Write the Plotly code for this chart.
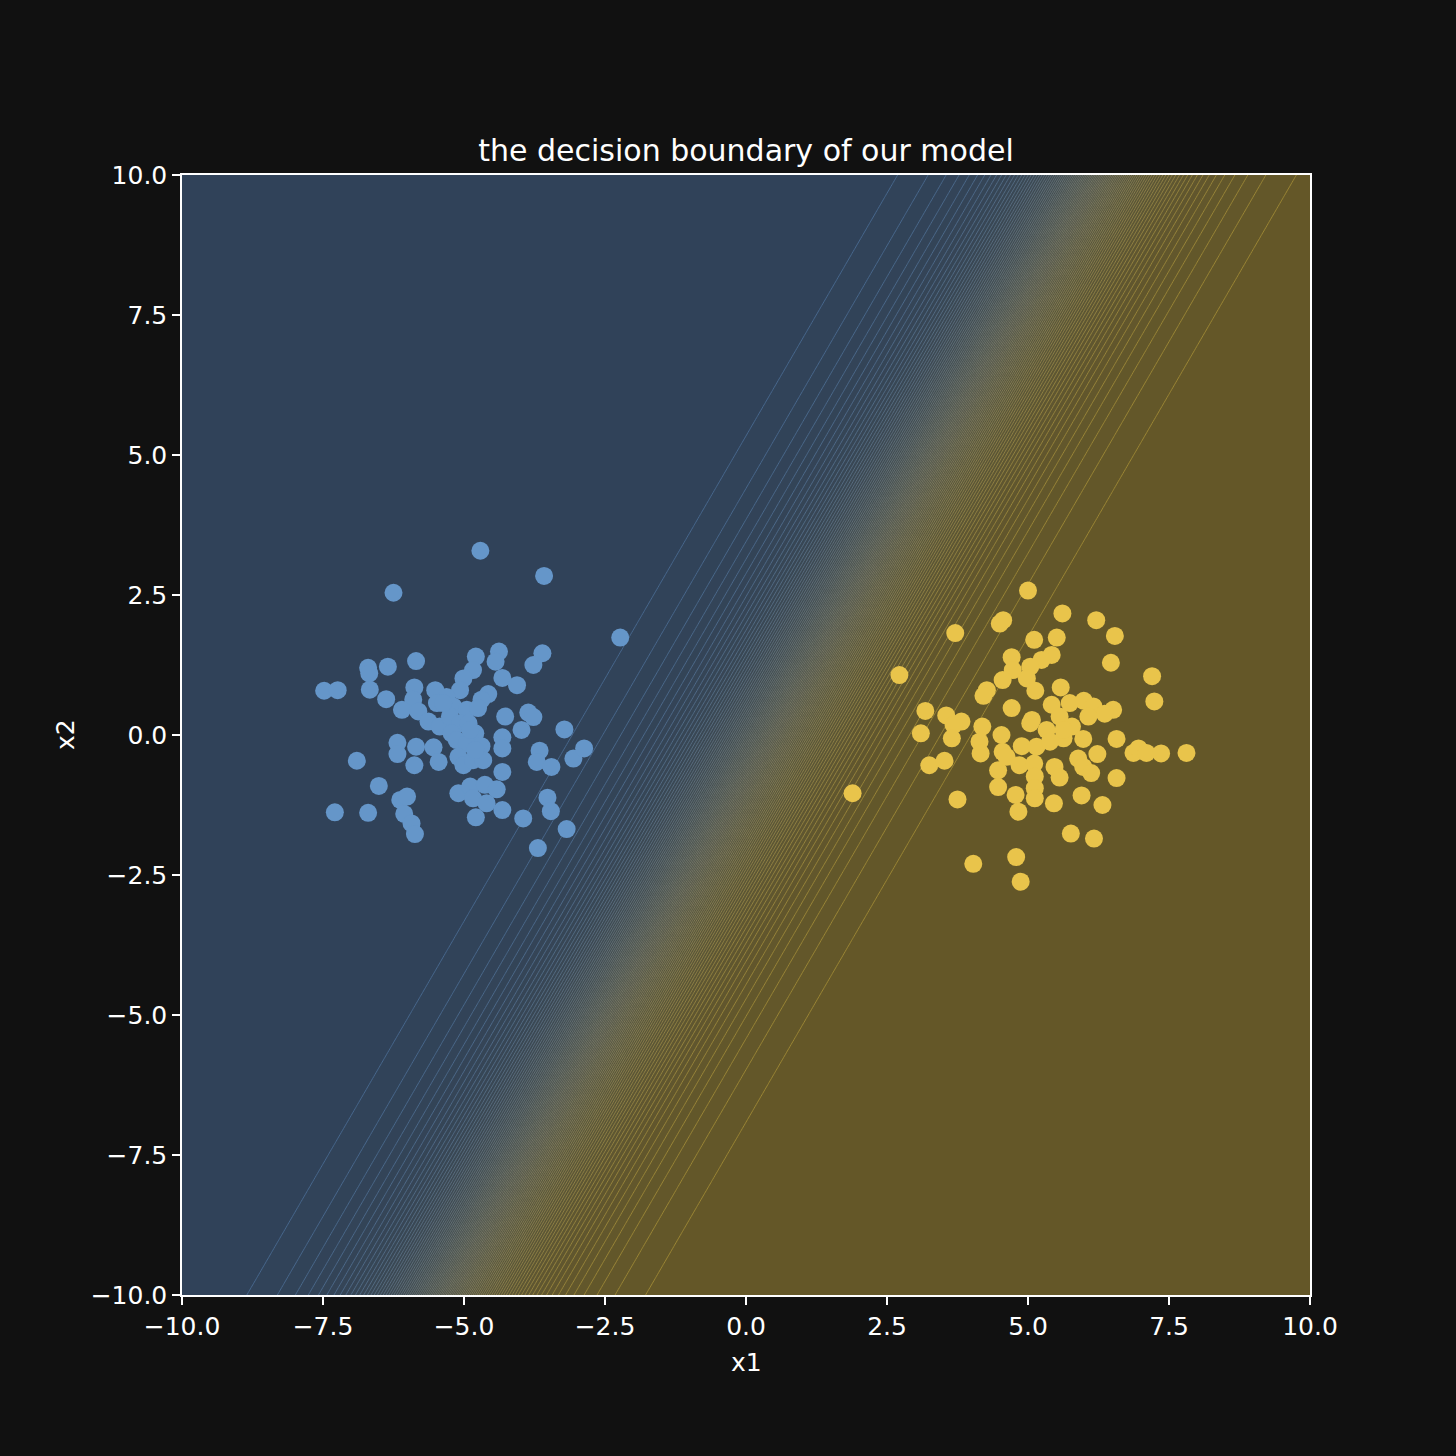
import numpy as np
import plotly.graph_objects as go

# ---- data ----
blue_x1 = [-4.71, -3.58, -6.25, -2.23, -7.48, -7.24, -6.70, -6.68, -6.35, -5.85, -6.67, -6.38, -4.79, -4.38,
           -4.44, -3.61, -3.77, -4.84, -5.01, -4.32, -4.06, -5.07, -5.88, -5.51, -4.57, -4.69, -5.31, -5.90,
           -6.10, -5.81, -5.48, -5.19, -4.95, -4.75, -5.63, -5.43, -5.25, -5.07, -4.92, -4.27, -3.86, -3.77,
           -3.98, -3.22, -5.22, -4.80, -5.13, -4.95, -4.69, -4.32, -4.32, -6.18, -6.18, -5.85, -5.54, -5.88,
           -5.45, -5.10, -5.01, -4.84, -4.66, -4.80, -4.32, -6.90, -6.51, -7.29, -6.70, -6.13, -6.01, -6.06,
           -5.93, -5.87, -5.10, -4.89, -4.63, -4.42, -4.84, -4.60, -4.79, -4.32, -3.95, -3.69, -3.52, -3.46,
           -3.18, -3.66, -3.71, -3.45, -3.06, -2.87, -5.37, -4.89]
blue_x2 = [3.29, 2.84, 2.54, 1.74, 0.79, 0.80, 1.20, 1.10, 1.22, 1.32, 0.81, 0.64, 1.40, 1.49,
           1.31, 1.46, 1.25, 1.16, 1.01, 1.02, 0.89, 0.80, 0.85, 0.80, 0.73, 0.63, 0.68, 0.63,
           0.45, 0.42, 0.57, 0.51, 0.45, 0.48, 0.24, 0.15, 0.33, 0.21, 0.21, 0.33, 0.40, 0.32,
           0.09, 0.10, 0.03, 0.03, -0.09, -0.15, -0.20, -0.04, -0.24, -0.14, -0.34, -0.21, -0.22, -0.54,
           -0.48, -0.39, -0.54, -0.45, -0.45, -0.27, -0.66, -0.46, -0.91, -1.38, -1.39, -1.16, -1.10, -1.41,
           -1.58, -1.77, -1.04, -0.92, -0.89, -0.97, -1.13, -1.22, -1.47, -1.34, -1.49, -2.02, -1.12, -1.36,
           -1.68, -0.28, -0.48, -0.57, -0.42, -0.24, 0.57, 0.09]

yellow_x1 = [5.00, 5.61, 6.21, 6.54, 6.47, 7.20, 7.24, 3.71, 4.50, 4.56, 2.72, 5.11, 5.51, 5.42,
             5.24, 4.71, 5.04, 4.73, 4.55, 4.98, 5.13, 4.27, 4.21, 5.58, 5.42, 5.74, 5.99, 6.16,
             6.51, 6.36, 6.07, 4.71, 3.18, 3.55, 3.82, 3.68, 4.19, 5.07, 5.04, 5.56, 5.78, 5.33,
             5.63, 5.98, 6.57, 3.10, 3.65, 4.14, 4.53, 4.16, 4.89, 5.15, 5.39, 4.55, 6.87, 6.96,
             7.10, 7.36, 7.81, 6.23, 5.89, 5.98, 6.12, 3.25, 3.52, 4.47, 4.62, 4.85, 5.11, 5.12,
             5.47, 5.56, 4.47, 5.12, 5.12, 4.78, 5.46, 5.95, 6.32, 6.57, 4.83, 3.75, 1.89, 5.76,
             6.17, 4.03, 4.79, 4.87, 5.63]
yellow_x2 = [2.58, 2.17, 2.05, 1.77, 1.29, 1.05, 0.60, 1.82, 1.99, 2.05, 1.07, 1.70, 1.74, 1.43,
             1.34, 1.39, 1.22, 1.16, 0.98, 1.01, 0.79, 0.80, 0.70, 0.85, 0.54, 0.57, 0.61, 0.51,
             0.45, 0.38, 0.33, 0.48, 0.43, 0.35, 0.24, 0.18, 0.15, 0.27, 0.21, 0.33, 0.15, 0.09,
             -0.06, -0.07, -0.07, 0.03, -0.06, -0.12, 0.00, -0.33, -0.20, -0.21, -0.12, -0.30, -0.32, -0.24,
             -0.32, -0.33, -0.32, -0.34, -0.42, -0.57, -0.68, -0.54, -0.46, -0.63, -0.39, -0.54, -0.51, -0.74,
             -0.57, -0.76, -0.93, -0.95, -1.13, -1.07, -1.22, -1.08, -1.25, -0.77, -1.37, -1.15, -1.04, -1.76,
             -1.85, -2.30, -2.18, -2.62, 0.09]

# logistic model weights (estimated from the boundary in the picture)
W1 = 1.30
W2 = -0.75
B = -0.59

tick_vals = [-10.0, -7.5, -5.0, -2.5, 0.0, 2.5, 5.0, 7.5, 10.0]
tick_text = ["\u221210.0", "\u22127.5", "\u22125.0", "\u22122.5", "0.0", "2.5", "5.0", "7.5", "10.0"]

# ---- model surface ----
gx = np.linspace(-10, 10, 301)
gy = np.linspace(-10, 10, 301)
GX, GY = np.meshgrid(gx, gy)
P = 1.0 / (1.0 + np.exp(-(W1 * GX + W2 * GY + B)))

BG = "#111111"
fill_scale = [[0.0, "#304259"], [0.5, "#4e5349"], [1.0, "#645728"]]
line_scale = [[0.0, "#4a6b92"], [0.5, "#7a7a68"], [1.0, "#a08a36"]]

fig = go.Figure()
fig.add_trace(go.Contour(
    x=gx, y=gy, z=P, zmin=0, zmax=1, zauto=False,
    contours=dict(start=0.0, end=1.0, size=0.01, coloring="fill"),
    colorscale=fill_scale, line=dict(width=0), showscale=False, hoverinfo="skip",
))
fig.add_trace(go.Contour(
    x=gx, y=gy, z=P, zmin=0, zmax=1, zauto=False,
    contours=dict(start=0.01, end=0.99, size=0.01, coloring="lines"),
    colorscale=line_scale, line=dict(width=0.9), showscale=False, hoverinfo="skip",
))
fig.add_trace(go.Scatter(
    x=blue_x1, y=blue_x2, mode="markers",
    marker=dict(size=18, color="#6596c9", line=dict(width=0)), showlegend=False,
))
fig.add_trace(go.Scatter(
    x=yellow_x1, y=yellow_x2, mode="markers",
    marker=dict(size=18, color="#e9c44b", line=dict(width=0)), showlegend=False,
))

axis_common = dict(
    range=[-10, 10], tickvals=tick_vals, ticktext=tick_text,
    showgrid=False, zeroline=False, showline=True, linecolor="white", linewidth=1.5,
    mirror=True, ticks="outside", ticklen=8, tickwidth=1.5, tickcolor="white",
    tickfont=dict(family="DejaVu Sans", size=25, color="white"),
)
fig.update_xaxes(**axis_common)
fig.update_yaxes(**axis_common)

fig.update_layout(
    width=1456, height=1456,
    paper_bgcolor=BG, plot_bgcolor=BG,
    margin=dict(l=182, r=146, t=175, b=161),
    showlegend=False,
    title=dict(text="the decision boundary of our model", x=0.5, xref="paper",
               y=1 - 150 / 1456, yref="container", yanchor="middle", xanchor="center",
               font=dict(family="DejaVu Sans", size=30, color="white")),
    annotations=[
        dict(text="x1", x=0.5, xref="paper", y=(1295 - 1362) / 1120, yref="paper",
             showarrow=False, xanchor="center", yanchor="middle",
             font=dict(family="DejaVu Sans", size=25, color="white")),
        dict(text="x2", x=(65 - 182) / 1128, xref="paper", y=0.5, yref="paper",
             showarrow=False, xanchor="center", yanchor="middle", textangle=-90,
             font=dict(family="DejaVu Sans", size=25, color="white")),
    ],
)

fig.write_html(
    "out.html",
    config={"displayModeBar": False},
    post_script="document.body.style.margin='0';document.body.style.background='#111111';",
)
